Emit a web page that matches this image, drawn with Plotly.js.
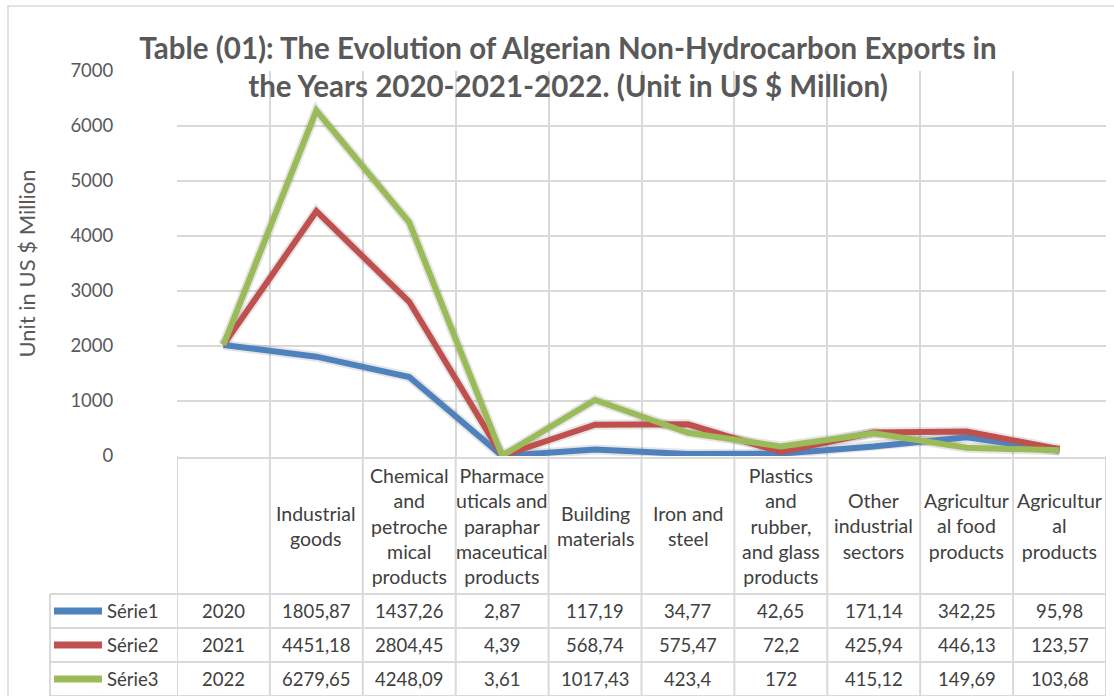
<!DOCTYPE html>
<html>
<head>
<meta charset="utf-8">
<script src="https://cdn.plot.ly/plotly-3.0.1.min.js"></script>
<style>html,body{margin:0;padding:0;background:#fff;}#chart{width:1114px;height:696px;}</style>
</head>
<body>
<div id="chart"></div>
<script>
const categories = ["", "Industrial<br>goods", "Chemical<br>and<br>petroche<br>mical<br>products",
  "Pharmace<br>uticals and<br>paraphar<br>maceutical<br>products", "Building<br>materials",
  "Iron and<br>steel", "Plastics<br>and<br>rubber,<br>and glass<br>products", "Other<br>industrial<br>sectors",
  "Agricultur<br>al food<br>products", "Agricultur<br>al<br>products"];
const seriesNames = ["Série1", "Série2", "Série3"];
const serie1 = [2020, 1805.87, 1437.26, 2.87, 117.19, 34.77, 42.65, 171.14, 342.25, 95.98];
const serie2 = [2021, 4451.18, 2804.45, 4.39, 568.74, 575.47, 72.2, 425.94, 446.13, 123.57];
const serie3 = [2022, 6279.65, 4248.09, 3.61, 1017.43, 423.4, 172, 415.12, 149.69, 103.68];
const colors = ["#4F81BD", "#C0504D", "#9BBB59"];
const yTicks = [0, 1000, 2000, 3000, 4000, 5000, 6000, 7000];

const allSeries = [serie1, serie2, serie3];
const idx = categories.map((c, i) => i);

// pixel helpers for the layout (plot area 177..1106 x 71..456)
const L = 177, R = 1106, T = 71, B = 456;
const px = p => (p - L) / (R - L);
const py = p => (B - p) / (B - T);

const traces = allSeries.map((s, k) => ({
  x: idx, y: s, type: 'scatter', mode: 'lines', name: seriesNames[k],
  line: {color: colors[k], width: 6, shape: 'linear'}, showlegend: false,
  hoverinfo: 'skip'
}));
// soft shadow
const shadows = allSeries.map((s, k) => ({
  x: idx, y: s, type: 'scatter', mode: 'lines', showlegend: false, hoverinfo: 'skip',
  line: {color: 'rgba(0,0,0,0.10)', width: 10}
}));

const shapes = [];
const annotations = [];
const gridColor = '#d9d9d9';
const bounds = [];
for (let i = 0; i <= categories.length; i++) bounds.push(i - 0.5);

// table vertical lines (continuing category grid)
bounds.forEach(b => shapes.push({type: 'line', xref: 'x', yref: 'paper', x0: b, x1: b,
  y0: py(456), y1: py(700), line: {color: gridColor, width: 2}}));
// legend column left line
shapes.push({type: 'line', xref: 'paper', yref: 'paper', x0: px(50), x1: px(50), y0: py(594), y1: py(700), line: {color: gridColor, width: 2}});
// horizontal lines
shapes.push({type: 'line', xref: 'paper', yref: 'paper', x0: 0, x1: 1, y0: py(458), y1: py(458), line: {color: gridColor, width: 2}});
[594, 628, 662, 696].forEach(yy => shapes.push({type: 'line', xref: 'paper', yref: 'paper',
  x0: px(50), x1: 1, y0: py(yy), y1: py(yy), line: {color: gridColor, width: 2}}));
// outer chart border
shapes.push({type: 'rect', xref: 'paper', yref: 'paper', x0: px(8), x1: px(1125), y0: py(705), y1: py(6),
  line: {color: gridColor, width: 1.5}, layer: 'below'});

const fam = 'Lato, "Open Sans", sans-serif';
const catFont = {family: fam, size: 19.5, color: '#404040'};
const txtFont = {family: fam, size: 18.5, color: '#404040'};
// category labels
categories.forEach((c, i) => annotations.push({xref: 'x', yref: 'paper', x: i, y: py(526),
  text: c, showarrow: false, xanchor: 'center', yanchor: 'middle', align: 'center', font: catFont}));
// values
const rowY = [611, 645, 679];
allSeries.forEach((s, k) => {
  s.forEach((v, i) => annotations.push({xref: 'x', yref: 'paper', x: i, y: py(rowY[k]),
    text: String(v).replace('.', ','), showarrow: false, xanchor: 'center', yanchor: 'middle', font: txtFont}));
  shapes.push({type: 'line', xref: 'paper', yref: 'paper', x0: px(54), x1: px(102), y0: py(rowY[k]), y1: py(rowY[k]),
    line: {color: colors[k], width: 7}});
  annotations.push({xref: 'paper', yref: 'paper', x: px(105), y: py(rowY[k]), text: seriesNames[k],
    showarrow: false, xanchor: 'left', yanchor: 'middle', font: txtFont});
});

const layout = {
  width: 1114, height: 696,
  margin: {l: L, r: 1114 - R, t: T, b: 696 - B},
  paper_bgcolor: '#fff', plot_bgcolor: '#fff',
  title: {text: '<b>Table (01): The Evolution of Algerian Non-Hydrocarbon Exports in<br>the Years 2020-2021-2022. (Unit in US $ Million)</b>',
    font: {family: fam, size: 29.5, color: '#595959'},
    x: 568 / 1114, xanchor: 'center', xref: 'container', y: 1 - 59 / 696, yanchor: 'middle', yref: 'container'},
  xaxis: {range: [-0.5, categories.length - 0.5], tickvals: bounds, showticklabels: false,
    showgrid: true, gridcolor: gridColor, gridwidth: 2, zeroline: false, showline: false, ticks: '', fixedrange: true},
  yaxis: {range: [0, 7000], tickvals: yTicks, ticktext: yTicks.map(String), showgrid: true, gridcolor: gridColor, gridwidth: 2,
    zeroline: false, showline: false, ticks: 'outside', ticklen: 59, tickcolor: 'rgba(0,0,0,0)',
    tickfont: {family: fam, size: 18.5, color: '#595959'},
    title: {text: 'Unit in US $ Million', font: {family: fam, size: 22, color: '#595959'}, standoff: 28}},
  shapes: shapes, annotations: annotations,
  hovermode: false
};

Plotly.newPlot('chart', shadows.concat(traces), layout, {displayModeBar: false, staticPlot: true});
</script>
</body>
</html>
